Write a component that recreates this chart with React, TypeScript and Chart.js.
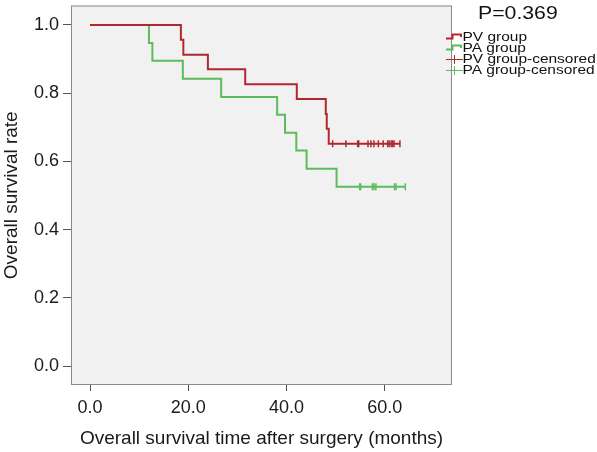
import React, { useEffect, useRef } from "react";
import { Chart, registerables } from "chart.js";

Chart.register(...registerables);

// ---- data ----
const xTickValues = [0, 20, 40, 60];
const yTickValues = [0, 0.2, 0.4, 0.6, 0.8, 1.0];

const pvEventTimes = [0, 18.5, 19.0, 24.0, 31.6, 42.1, 48.0, 48.2, 48.6];
const pvSurvival = [1.0, 0.957, 0.913, 0.87, 0.826, 0.783, 0.739, 0.696, 0.652];
const pvCensoredTimes = [49.4, 52.1, 54.5, 54.7, 56.6, 57.2, 57.8, 58.7, 59.7, 60.6, 60.9, 61.3, 61.6, 61.9, 63.1];

const paEventTimes = [0, 12.0, 12.7, 18.9, 26.7, 38.1, 39.7, 42.0, 44.1, 50.2];
const paSurvival = [1.0, 0.947, 0.895, 0.842, 0.789, 0.737, 0.684, 0.632, 0.579, 0.526];
const paCensoredTimes = [54.9, 55.1, 57.5, 57.8, 58.2, 62.0, 62.3, 64.2];

const legendLabels = ["PV group", "PA group", "PV group-censored", "PA group-censored"];
const pValueText = "P=0.369";
const xTitle = "Overall survival time after surgery (months)";
const yTitle = "Overall survival rate";

const RED = "#b0282e";
const GREEN = "#5cbc5c";
const FONT = "'Liberation Sans', Arial, Helvetica, sans-serif";

function survivalAt(times: number[], surv: number[], t: number) {
  let s = surv[0];
  for (let i = 0; i < times.length; i++) if (times[i] <= t) s = surv[i];
  return s;
}

function curve(times: number[], surv: number[], censored: number[]) {
  const pts = times.map((t, i) => ({ x: t, y: surv[i] }));
  const end = censored[censored.length - 1];
  pts.push({ x: end, y: survivalAt(times, surv, end) });
  return pts;
}

function censorPts(times: number[], surv: number[], censored: number[]) {
  return censored.map((t) => ({ x: t, y: survivalAt(times, surv, t) }));
}

const framePlugin = {
  id: "frame",
  beforeDraw(chart: any) {
    const { ctx, chartArea: a } = chart;
    ctx.save();
    ctx.fillStyle = "#ffffff";
    ctx.fillRect(0, 0, chart.width, chart.height);
    ctx.fillStyle = "#f1f1f1";
    ctx.fillRect(a.left, a.top, a.right - a.left, a.bottom - a.top);
    ctx.restore();
  },
  afterDraw(chart: any) {
    const { ctx, chartArea: a } = chart;
    ctx.save();
    ctx.strokeStyle = "#8a8a8a";
    ctx.lineWidth = 1;
    ctx.strokeRect(a.left + 0.5, a.top + 0.5, a.right - a.left - 1, a.bottom - a.top - 1);

    // legend (text in the reference is horizontally stretched)
    ctx.fillStyle = "#111";
    ctx.textBaseline = "middle";
    ctx.textAlign = "left";
    ctx.font = `18px ${FONT}`;
    ctx.save();
    ctx.translate(478, 14.5);
    ctx.scale(1.18, 1);
    ctx.fillText(pValueText, 0, 0);
    ctx.restore();

    const rows = [37, 48, 59, 70];
    const colors = [RED, GREEN, RED, GREEN];
    ctx.font = `13px ${FONT}`;
    legendLabels.forEach((lab, i) => {
      const y = rows[i];
      ctx.strokeStyle = colors[i];
      ctx.beginPath();
      if (i < 2) {
        ctx.lineWidth = 2;
        ctx.moveTo(446, y + 1.5);
        ctx.lineTo(452.5, y + 1.5);
        ctx.lineTo(452.5, y - 2.5);
        ctx.lineTo(461, y - 2.5);
        ctx.lineTo(461, y);
      } else {
        ctx.lineWidth = 1;
        ctx.moveTo(446, y + 0.5);
        ctx.lineTo(463, y + 0.5);
        ctx.moveTo(454.5, y - 4);
        ctx.lineTo(454.5, y + 5);
      }
      ctx.stroke();
      ctx.save();
      ctx.translate(462.5, y);
      ctx.scale(1.19, 1);
      ctx.fillText(lab, 0, 0);
      ctx.restore();
    });
    ctx.restore();
  },
};

export default function App() {
  const ref = useRef<HTMLCanvasElement | null>(null);
  useEffect(() => {
    if (!ref.current) return;
    const chart = new Chart(ref.current, {
      type: "scatter",
      data: {
        datasets: [
          {
            type: "line",
            label: legendLabels[0],
            data: curve(pvEventTimes, pvSurvival, pvCensoredTimes),
            borderColor: RED,
            borderWidth: 2,
            stepped: true,
            pointRadius: 0,
            fill: false,
          } as any,
          {
            type: "line",
            label: legendLabels[1],
            data: curve(paEventTimes, paSurvival, paCensoredTimes),
            borderColor: GREEN,
            borderWidth: 2,
            stepped: true,
            pointRadius: 0,
            fill: false,
          } as any,
          {
            label: legendLabels[2],
            data: censorPts(pvEventTimes, pvSurvival, pvCensoredTimes),
            pointStyle: "line",
            rotation: 90,
            radius: 3.5,
            borderColor: RED,
            borderWidth: 1.5,
          } as any,
          {
            label: legendLabels[3],
            data: censorPts(paEventTimes, paSurvival, paCensoredTimes),
            pointStyle: "line",
            rotation: 90,
            radius: 3.5,
            borderColor: GREEN,
            borderWidth: 1.5,
          } as any,
        ],
      },
      options: {
        animation: false,
        responsive: false,
        devicePixelRatio: 1,
        layout: { padding: { top: 3, right: 145, left: 0, bottom: 0 } },
        plugins: { legend: { display: false }, tooltip: { enabled: false } },
        scales: {
          x: {
            type: "linear",
            min: -3.87,
            max: 73.7,
            afterBuildTicks: (s: any) => {
              s.ticks = xTickValues.map((v) => ({ value: v }));
            },
            afterFit: (s: any) => {
              s.height = 67;
              s.paddingLeft = 0;
              s.paddingRight = 0;
            },
            border: { display: false },
            grid: { drawOnChartArea: false, drawTicks: true, tickLength: 6, color: "#555" },
            ticks: {
              padding: 6,
              color: "#1a1a1a",
              font: { family: FONT, size: 18 },
              callback: (v: any) => Number(v).toFixed(1),
            },
            title: {
              display: true,
              text: xTitle,
              color: "#1a1a1a",
              font: { family: FONT, size: 19 },
              padding: { top: 0, bottom: 2 },
            },
          },
          y: {
            type: "linear",
            min: -0.055,
            max: 1.057,
            afterBuildTicks: (s: any) => {
              s.ticks = yTickValues.map((v) => ({ value: v }));
            },
            afterFit: (s: any) => {
              s.width = 71;
              s.paddingTop = 0;
              s.paddingBottom = 0;
            },
            border: { display: false },
            grid: { drawOnChartArea: false, drawTicks: true, tickLength: 8, color: "#555" },
            ticks: {
              padding: 4,
              color: "#1a1a1a",
              font: { family: FONT, size: 18 },
              callback: (v: any) => Number(v).toFixed(1),
            },
            title: {
              display: true,
              text: yTitle,
              color: "#1a1a1a",
              font: { family: FONT, size: 19 },
              padding: { top: 0, bottom: 0 },
            },
          },
        },
      } as any,
      plugins: [framePlugin],
    });
    return () => chart.destroy();
  }, []);
  return (
    <div style={{ position: "fixed", left: 0, top: 0, width: 597, height: 452, background: "#fff" }}>
      <canvas ref={ref} width={597} height={452} style={{ width: 597, height: 452, display: "block" }} />
    </div>
  );
}
